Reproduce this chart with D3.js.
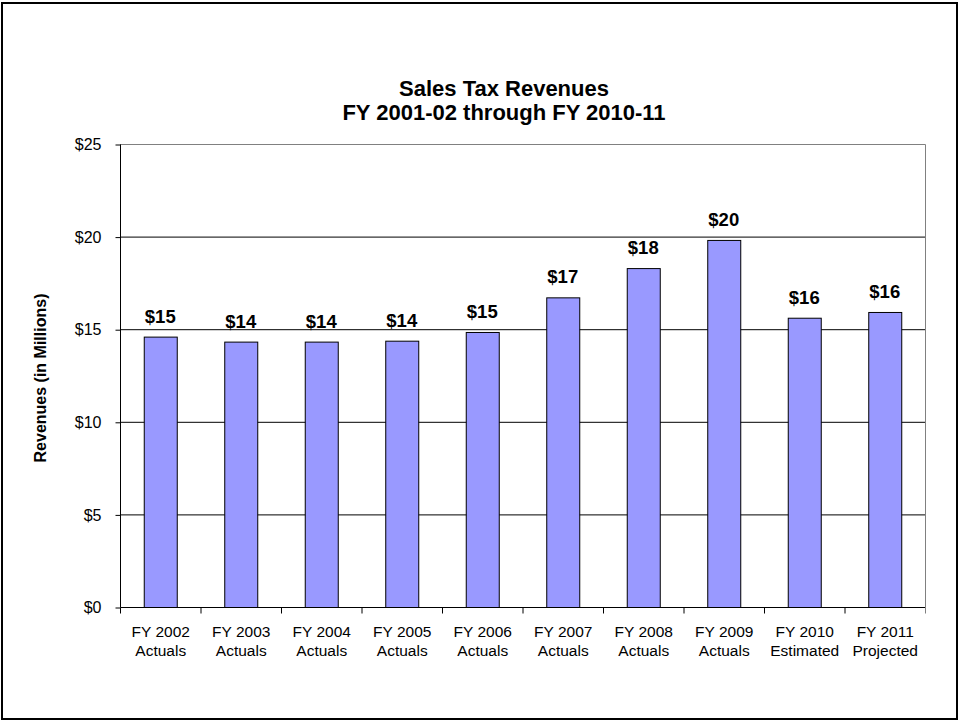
<!DOCTYPE html>
<html>
<head>
<meta charset="utf-8">
<script src="https://cdn.jsdelivr.net/npm/d3@7"></script>
<style>
  body { margin: 0; background: #fff; }
  svg { display: block; font-family: "Liberation Sans", Arial, sans-serif; }
</style>
</head>
<body>
<div id="chart"></div>
<script>
// data
const years = ["FY 2002", "FY 2003", "FY 2004", "FY 2005", "FY 2006",
               "FY 2007", "FY 2008", "FY 2009", "FY 2010", "FY 2011"];
const kinds = ["Actuals", "Actuals", "Actuals", "Actuals", "Actuals",
               "Actuals", "Actuals", "Actuals", "Estimated", "Projected"];
const revenues = [14.6, 14.33, 14.33, 14.38, 14.85, 16.72, 18.3, 19.82, 15.62, 15.93];
const yTicks = [0, 5, 10, 15, 20, 25];

const width = 959, height = 721;
const margin = { top: 144, right: 34, bottom: 114, left: 120 };
const w = width - margin.left - margin.right,
    h = height - margin.top - margin.bottom;

const svg = d3.select("#chart")
    .append("svg")
    .attr("width", width)
    .attr("height", height);

// outer frame
svg.append("rect")
    .attr("x", 2).attr("y", 3)
    .attr("width", 955).attr("height", 716)
    .attr("fill", "none")
    .attr("stroke", "#000")
    .attr("stroke-width", 2);

const g = svg.append("g")
    .attr("transform", "translate(" + margin.left + "," + margin.top + ")");

const x = d3.scaleBand()
    .domain(years)
    .range([0, w])
    .paddingInner(0.59)
    .paddingOuter(0.295);

const y = d3.scaleLinear()
    .domain([0, 25])
    .range([h, 0]);

// gridlines
g.selectAll(".grid")
    .data(yTicks.filter(d => d > 0 && d < 25))
    .enter()
    .append("line")
    .attr("x1", 0).attr("x2", w)
    .attr("y1", d => y(d) + 0.5).attr("y2", d => y(d) + 0.5)
    .attr("stroke", "#000")
    .attr("stroke-width", 1);

// plot border top / right
g.append("path")
    .attr("d", "M0," + (y(25) + 0.5) + "H" + (w + 0.5) + "V" + h)
    .attr("fill", "none")
    .attr("stroke", "#808080")
    .attr("stroke-width", 1);

// bars
g.selectAll(".bar")
    .data(revenues)
    .enter()
    .append("rect")
    .attr("class", "bar")
    .attr("x", (d, i) => x(years[i]) + 0.5)
    .attr("y", d => y(d) + 0.5)
    .attr("width", x.bandwidth())
    .attr("height", d => h - y(d))
    .attr("fill", "#9999ff")
    .attr("stroke", "#000")
    .attr("stroke-width", 1);

// value labels
g.selectAll(".val")
    .data(revenues)
    .enter()
    .append("text")
    .attr("x", (d, i) => x(years[i]) + x.bandwidth() / 2)
    .attr("y", d => y(d) - 14)
    .attr("text-anchor", "middle")
    .attr("font-size", 18.5)
    .attr("font-weight", "bold")
    .text(d => "$" + Math.round(d));

// y axis
const yAxis = g.append("g")
    .attr("transform", "translate(0.5,0.5)")
    .call(d3.axisLeft(y).tickValues(yTicks).tickSize(5).tickPadding(14)
        .tickFormat(d => "$" + d));
yAxis.select(".domain").attr("d", "M0," + y(25) + "V" + h);
yAxis.selectAll("text").attr("font-size", 16).attr("fill", "#000")
    .attr("font-family", "Liberation Sans, Arial, sans-serif");

// x axis
const xAxis = g.append("g")
    .attr("transform", "translate(0.5," + (h + 0.5) + ")");
xAxis.append("line")
    .attr("x1", 0).attr("x2", w)
    .attr("stroke", "#000");
xAxis.selectAll(".tick")
    .data(d3.range(years.length + 1))
    .enter()
    .append("line")
    .attr("x1", i => i * x.step()).attr("x2", i => i * x.step())
    .attr("y1", 0).attr("y2", 6)
    .attr("stroke", i => i === years.length ? "#808080" : "#000");

const xl = xAxis.selectAll(".xl")
    .data(years)
    .enter()
    .append("text")
    .attr("text-anchor", "middle")
    .attr("font-size", 15.5)
    .attr("x", d => x(d) + x.bandwidth() / 2);
xl.append("tspan")
    .attr("x", d => x(d) + x.bandwidth() / 2)
    .attr("y", 29)
    .text(d => d);
xl.append("tspan")
    .attr("x", d => x(d) + x.bandwidth() / 2)
    .attr("y", 48)
    .text((d, i) => kinds[i]);

// axis title
svg.append("text")
    .attr("transform", "translate(46,378) rotate(-90)")
    .attr("text-anchor", "middle")
    .attr("font-size", 16)
    .attr("font-weight", "bold")
    .text("Revenues (in Millions)");

// chart title
const title = svg.append("text")
    .attr("text-anchor", "middle")
    .attr("font-size", 22)
    .attr("font-weight", "bold");
title.append("tspan").attr("x", 504).attr("y", 96).text("Sales Tax Revenues");
title.append("tspan").attr("x", 504).attr("y", 120).text("FY 2001-02 through FY 2010-11");
</script>
</body>
</html>
